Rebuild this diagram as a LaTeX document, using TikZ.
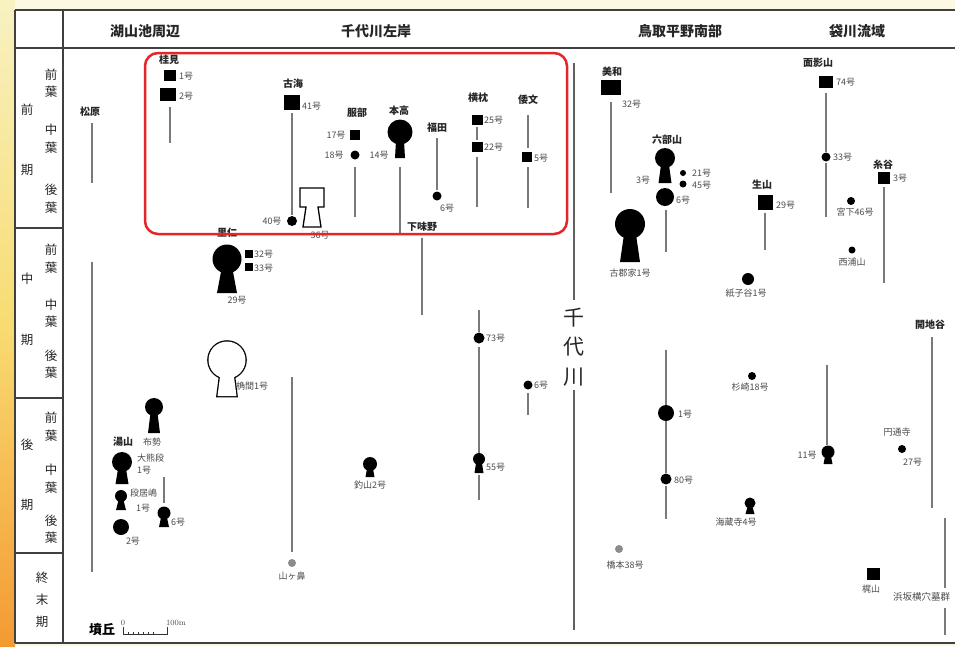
\documentclass[tikz,border=0pt]{standalone}
\usepackage{fontspec}
\newfontfamily\jp{Noto Sans CJK JP}
\definecolor{cream}{HTML}{FCF8E1}
\definecolor{stripA}{HTML}{F8F2C2}
\definecolor{stripB}{HTML}{F8DC72}
\definecolor{stripC}{HTML}{F49A32}
\definecolor{redbox}{HTML}{E3262A}
\newcommand\keyholeF[6]{%
  \fill[black] (#1,#2) circle[radius=#3pt];
  \fill[black] ({#1-#5},{#2+0.7*#3}) -- ({#1+#5},{#2+0.7*#3}) -- ({#1+#6},#4) -- ({#1-#6},#4) -- cycle;}
\newcommand\keyholeO[6]{%
  \draw[line width=2.6pt] (#1,#2) circle[radius=#3pt];
  \draw[line width=2.6pt] ({#1-#5},{#2+0.7*#3}) -- ({#1+#5},{#2+0.7*#3}) -- ({#1+#6},#4) -- ({#1-#6},#4) -- cycle;
  \fill[white] (#1,#2) circle[radius=#3pt];
  \fill[white] ({#1-#5},{#2+0.7*#3}) -- ({#1+#5},{#2+0.7*#3}) -- ({#1+#6},#4) -- ({#1-#6},#4) -- cycle;}
\begin{document}
\begin{tikzpicture}[x=1pt,y=-1pt,
  hdr/.style={font=\jp\bfseries\fontsize{14}{15}\selectfont, inner sep=0pt, text=black!85},
  per/.style={font=\jp\fontsize{12.5}{13}\selectfont, inner sep=0pt, text=black!85},
  site/.style={font=\jp\bfseries\fontsize{10}{11}\selectfont, inner sep=0pt, text=black!85},
  num/.style={font=\jp\fontsize{9}{10}\selectfont, inner sep=0pt, text=black!70},
  big/.style={font=\jp\fontsize{21}{22}\selectfont, inner sep=0pt, text=black!85},
  sq/.style args={#1x#2}{fill=black, rectangle, inner sep=0pt, minimum width=#1pt, minimum height=#2pt},
  dot/.style={fill=black, circle, inner sep=0pt, minimum size=#1pt},
  gdot/.style={fill=black!45, circle, inner sep=0pt, minimum size=#1pt},
  tl/.style={draw=black!52, line width=2.8pt},
  river/.style={draw=black!62, line width=2.4pt},
  tframe/.style={draw=black!75, line width=1.6pt},
]
\useasboundingbox (0,0) rectangle (955,646);
\clip (0,0) rectangle (955,646);
% background
\fill[cream] (0,0) rectangle (955,646);
\shade[top color=stripA, bottom color=stripC, middle color=stripB] (0,0) rectangle (15,646);
\fill[white] (15,10) rectangle (955,643);
% frame
\draw[tframe] (15,10) -- (955,10);
\draw[tframe] (15,48) -- (955,48);
\draw[tframe] (15,643) -- (955,643);
\draw[tframe] (15,10) -- (15,643);
\draw[tframe] (63,10) -- (63,643);
\draw[tframe] (15,228) -- (63,228);
\draw[tframe] (15,398) -- (63,398);
\draw[tframe] (15,553) -- (63,553);
% headers
\node[hdr] (h1) at (145,31) {湖山池周辺};
\node[hdr] (h2) at (376,31) {千代川左岸};
\node[hdr] (h3) at (680,31) {鳥取平野南部};
\node[hdr] (h4) at (857,31) {袋川流域};
% period column
\node[per] (p1) at (27,110) {前};
\node[per] (p2) at (27,170) {期};
\node[per] (p3) at (51,75) {前}; \node[per] (p4) at (51,92) {葉};
\node[per] (p5) at (51,130) {中}; \node[per] (p6) at (51,148) {葉};
\node[per] (p7) at (51,190) {後}; \node[per] (p8) at (51,208) {葉};
\node[per] (q1) at (27,279) {中};
\node[per] (q2) at (27,340) {期};
\node[per] (q3) at (51,250) {前}; \node[per] (q4) at (51,268) {葉};
\node[per] (q5) at (51,305) {中}; \node[per] (q6) at (51,322) {葉};
\node[per] (q7) at (51,356) {後}; \node[per] (q8) at (51,373) {葉};
\node[per] (r1) at (27,445) {後};
\node[per] (r2) at (27,505) {期};
\node[per] (r3) at (51,418) {前}; \node[per] (r4) at (51,436) {葉};
\node[per] (r5) at (51,470) {中}; \node[per] (r6) at (51,488) {葉};
\node[per] (r7) at (51,521) {後}; \node[per] (r8) at (51,538) {葉};
\node[per] (s1) at (42,578) {終};
\node[per] (s2) at (42,600) {末};
\node[per] (s3) at (42,622) {期};
% ===== 湖山池周辺
\node[site] (matsubara) at (90,112) {松原};
\draw[tl] (92,123) -- (92,183);
\draw[tl] (92,262) -- (92,572);
\node[site] (katsurami) at (169,60) {桂見};
\node[sq=12x11] (k1) at (170,75) {};
\node[num,anchor=west] (k1t) at (179,76) {1号};
\node[sq=16x13] (k2) at (168,94) {};
\node[num,anchor=west] (k2t) at (179,96) {2号};
\draw[tl] (170,107) -- (170,143);
\node[site] (yuyama) at (123,442) {湯山};
\node[num] (fuse) at (152,442) {布勢};
\keyholeF{154}{407}{9}{433}{3.5}{6}
\keyholeF{122}{462}{10}{484}{4}{6.5}
\node[num,anchor=west] (ookuma) at (137,458) {大熊段};
\node[num,anchor=west] (ookuma1) at (137,470) {1号};
\keyholeF{121}{496}{6}{510}{2.5}{5}
\node[num,anchor=west] (dan1) at (130,493) {段居嶋};
\node[num,anchor=west] (dan1b) at (136,508) {1号};
\node[dot=16] (y2) at (121,527) {};
\node[num] (y2t) at (133,541) {2号};
\draw[tl] (164,477) -- (164,503);
\keyholeF{164}{513}{6.5}{527}{3}{5}
\node[num,anchor=west] (y6t) at (171,522) {6号};
% scale
\node[font=\jp\bfseries\fontsize{13}{14}\selectfont, inner sep=0pt] (fq) at (102,630) {墳丘};
\node[num,font=\fontsize{8}{9}\selectfont] (sc0) at (123,623) {0};
\node[num,font=\fontsize{8}{9}\selectfont] (sc1) at (176,623) {100m};
\draw[black!80, line width=0.8pt] (123,627) -- (123,634) -- (167,634) -- (167,627);
\foreach \t in {128,133,138,143,148,153} \draw[black!80, line width=0.6pt] (\t,632) -- (\t,634);
% ===== 千代川左岸
\node[site] (satoni) at (227,233) {里仁};
\keyholeF{227}{259}{14.5}{293}{5.5}{10}
\node[sq=8x8] (r32) at (249,254) {};
\node[num,anchor=west] (r32t) at (254,254) {32号};
\node[sq=8x8] (r33) at (249,267) {};
\node[num,anchor=west] (r33t) at (254,268) {33号};
\node[num] (r29t) at (237,300) {29号};
\keyholeO{227}{360}{18.5}{396}{6.5}{9.5}
\node[num,anchor=west] (kakuma) at (236,386) {桷間1号};
\draw[tl] (292,377) -- (292,552);
\node[gdot=8] (yamagahana) at (292,563) {};
\node[num] (yamagahanat) at (292,576) {山ヶ鼻};
\node[site] (furumi) at (293,84) {古海};
\node[sq=16x15] (f41) at (292,102) {};
\node[num,anchor=west] (f41t) at (302,106) {41号};
\draw[tl] (292,113) -- (292,215);
\node[dot=10] (f40) at (292,221) {};
\node[num] (f40t) at (272,221) {40号};
\draw[line width=1.3pt, fill=white] (300,188) -- (324,188) -- (324,207) -- (318,207) -- (321,227) -- (303,227) -- (306,207) -- (300,207) -- cycle;
\node[num] (f36t) at (320,235) {36号};
\node[site] (hattori) at (357,113) {服部};
\node[sq=10x10] (h17) at (355,135) {};
\node[num] (h17t) at (336,135) {17号};
\node[dot=9] (h18) at (355,155) {};
\node[num] (h18t) at (334,155) {18号};
\draw[tl] (355,167) -- (355,217);
\node[site] (motodaka) at (399,111) {本高};
\keyholeF{400}{132}{12.5}{158}{4}{5}
\node[num] (m14t) at (379,155) {14号};
\draw[tl] (400,167) -- (400,233);
\node[site] (shimoajino) at (422,227) {下味野};
\draw[tl] (422,238) -- (422,315);
\node[site] (fukuda) at (437,128) {福田};
\draw[tl] (437,138) -- (437,190);
\node[dot=9] (fk6) at (437,196) {};
\node[num] (fk6t) at (447,208) {6号};
\node[site] (yokomakura) at (478,98) {横枕};
\node[sq=11x10] (y25) at (477,120) {};
\node[num,anchor=west] (y25t) at (484,120) {25号};
\draw[tl] (477,127) -- (477,140);
\node[sq=11x10] (y22) at (477,147) {};
\node[num,anchor=west] (y22t) at (484,147) {22号};
\draw[tl] (477,157) -- (477,207);
\node[site] (shitori) at (528,100) {倭文};
\draw[tl] (528,115) -- (528,148);
\node[sq=10x10] (s5) at (527,157) {};
\node[num,anchor=west] (s5t) at (534,158) {5号};
\draw[tl] (528,167) -- (528,208);
\draw[tl] (479,310) -- (479,332);
\node[dot=11] (n73) at (479,338) {};
\node[num,anchor=west] (n73t) at (486,338) {73号};
\draw[tl] (479,347) -- (479,453);
\keyholeF{479}{459}{6}{473}{3}{4.5}
\node[num,anchor=west] (n55t) at (486,467) {55号};
\draw[tl] (479,475) -- (479,500);
\node[dot=9] (n6) at (528,385) {};
\node[num,anchor=west] (n6t) at (534,385) {6号};
\draw[tl] (528,393) -- (528,415);
\keyholeF{370}{464}{7}{477}{3}{4.5}
\node[num] (tsuriyama) at (370,485) {釣山2号};
% river
\draw[river] (574,63) -- (574,300);
\node[big] (c1) at (574,318) {千};
\node[big] (c2) at (574,347) {代};
\node[big] (c3) at (574,377) {川};
\draw[river] (574,390) -- (574,630);
% ===== 鳥取平野南部
\node[site] (miwa) at (612,72) {美和};
\node[sq=20x15] (mw32) at (611,87) {};
\node[num,anchor=west] (mw32t) at (622,104) {32号};
\draw[tl] (611,102) -- (611,193);
\node[site] (robuyama) at (667,140) {六部山};
\keyholeF{665}{158}{10}{183}{4}{6.5}
\node[num] (rb3t) at (643,180) {3号};
\node[dot=6] (rb21) at (683,173) {};
\node[num,anchor=west] (rb21t) at (692,173) {21号};
\node[dot=7] (rb45) at (683,184) {};
\node[num,anchor=west] (rb45t) at (692,185) {45号};
\node[dot=18] (rb6) at (665,197) {};
\node[num,anchor=west] (rb6t) at (676,200) {6号};
\draw[tl] (666,210) -- (666,252);
\keyholeF{630}{224}{15}{262}{6}{10}
\node[num] (kokoge) at (630,273) {古郡家1号};
\node[site] (ikuyama) at (762,185) {生山};
\node[sq=15x15] (ik29) at (765,202) {};
\node[num,anchor=west] (ik29t) at (776,205) {29号};
\draw[tl] (765,213) -- (765,250);
\node[dot=12] (kamiko) at (748,279) {};
\node[num] (kamikot) at (746,293) {紙子谷1号};
\node[dot=8] (sugisaki) at (752,376) {};
\node[num] (sugisakit) at (750,387) {杉崎18号};
\draw[tl] (666,350) -- (666,405);
\node[dot=16] (n1) at (666,413) {};
\node[num,anchor=west] (n1t) at (678,414) {1号};
\draw[tl] (666,421) -- (666,473);
\node[dot=11] (n80) at (666,479) {};
\node[num,anchor=west] (n80t) at (674,480) {80号};
\draw[tl] (666,486) -- (666,519);
\keyholeF{750}{503}{5.5}{514}{2.5}{4.5}
\node[num] (kaizoji) at (736,522) {海蔵寺4号};
\node[gdot=8] (hashimoto) at (619,549) {};
\node[num] (hashimotot) at (625,565) {橋本38号};
% ===== 袋川流域
\node[site] (omokage) at (818,63) {面影山};
\node[sq=14x12] (o74) at (826,82) {};
\node[num,anchor=west] (o74t) at (836,82) {74号};
\draw[tl] (826,93) -- (826,152);
\node[dot=9] (o33) at (826,157) {};
\node[num,anchor=west] (o33t) at (833,157) {33号};
\draw[tl] (826,163) -- (826,217);
\node[site] (itodani) at (883,165) {糸谷};
\node[sq=12x12] (i3) at (884,178) {};
\node[num,anchor=west] (i3t) at (893,178) {3号};
\draw[tl] (884,187) -- (884,283);
\node[dot=8] (miyashita) at (851,201) {};
\node[num] (miyashitat) at (855,212) {宮下46号};
\node[dot=7] (nishiura) at (852,250) {};
\node[num] (nishiurat) at (852,262) {西浦山};
\node[site] (kaichidani) at (930,325) {開地谷};
\draw[tl] (932,337) -- (932,508);
\draw[tl] (827,365) -- (827,445);
\keyholeF{828}{452}{6.5}{464}{3}{4.5}
\node[num] (n11t) at (807,455) {11号};
\node[num] (entsuji) at (897,432) {円通寺};
\node[dot=8] (e27) at (902,449) {};
\node[num,anchor=west] (e27t) at (903,462) {27号};
\node[sq=13x12] (kajiyama) at (873,574) {};
\node[num] (kajiyamat) at (871,589) {梶山};
\draw[tl] (945,518) -- (945,588);
\node[num,anchor=west,font=\jp\fontsize{9.5}{10}\selectfont] (hamasaka) at (893,597) {浜坂横穴墓群};
\draw[tl] (945,608) -- (945,635);
% red highlight box
\draw[redbox, line width=2.5pt, rounded corners=13pt] (145,53) rectangle (567,234);
\end{tikzpicture}
\end{document}
